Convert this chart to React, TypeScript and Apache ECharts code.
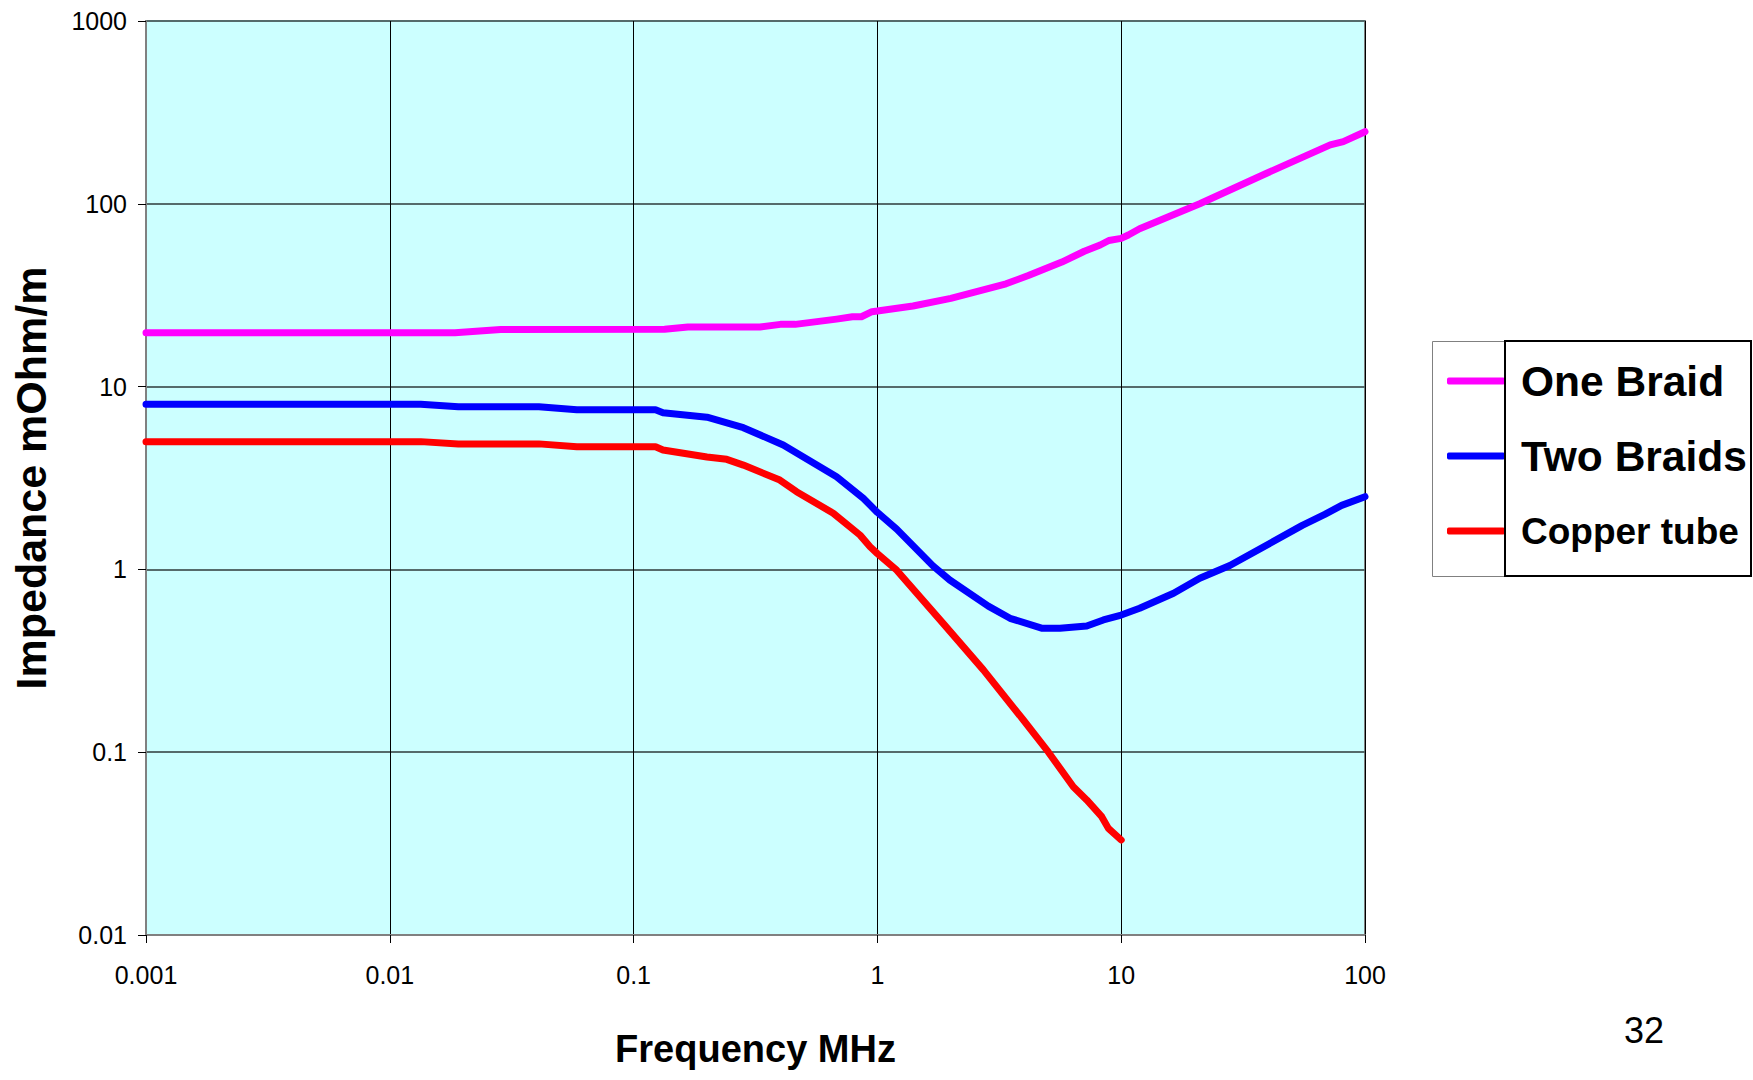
import React, { useEffect, useRef } from "react";
import * as echarts from "echarts";

// Frequency (MHz) and impedance (mOhm/m)
const oneBraidFreq = [0.001, 0.0185, 0.0285, 0.134, 0.167, 0.33, 0.4, 0.46, 0.68, 0.79, 0.86, 0.95, 1.0, 1.4, 2.0, 3.37, 4.16, 5.71, 7.06, 8.2, 8.9, 10, 10.7, 11.9, 21, 39.5, 72, 81.5, 100];
const oneBraidZ = [19.7, 19.7, 20.5, 20.6, 21.2, 21.2, 21.9, 21.9, 23.4, 24.1, 24.1, 25.7, 25.9, 27.6, 30.4, 36.5, 40.5, 48, 55, 59.5, 63, 64.7, 67.5, 73, 100, 147, 210, 219, 248];

const twoBraidsFreq = [0.001, 0.0134, 0.0191, 0.0409, 0.0585, 0.123, 0.132, 0.2, 0.282, 0.411, 0.68, 0.875, 1.0, 1.2, 1.69, 1.98, 2.85, 3.5, 4.75, 5.61, 7.22, 8.45, 10, 11.9, 16.4, 21, 27.9, 55.3, 68.4, 80.2, 100];
const twoBraidsZ = [8.0, 8.0, 7.76, 7.76, 7.48, 7.48, 7.2, 6.8, 5.96, 4.79, 3.21, 2.45, 2.05, 1.66, 1.045, 0.875, 0.63, 0.54, 0.476, 0.476, 0.49, 0.529, 0.563, 0.613, 0.74, 0.894, 1.05, 1.74, 2.0, 2.24, 2.5];

const copperFreq = [0.001, 0.0134, 0.0191, 0.0409, 0.0585, 0.123, 0.132, 0.2, 0.241, 0.282, 0.398, 0.466, 0.659, 0.849, 0.933, 1.0, 1.2, 1.86, 2.72, 3.97, 5.03, 6.36, 7.22, 8.32, 8.86, 10];
const copperZ = [5.0, 5.0, 4.86, 4.86, 4.69, 4.69, 4.5, 4.12, 4.0, 3.72, 3.08, 2.66, 2.03, 1.54, 1.33, 1.22, 0.99, 0.507, 0.282, 0.15, 0.1, 0.0647, 0.0548, 0.0444, 0.0383, 0.0331];

const seriesNames = ["One Braid", "Two Braids", "Copper tube"];
const seriesColors = ["#FF00FF", "#0000FF", "#FF0000"];

const zip = (xs: number[], ys: number[]) => xs.map((x, i) => [x, ys[i]]);

const fmt = (v: number) => String(Number(Number(v).toPrecision(6)));

export default function App() {
  const ref = useRef<HTMLDivElement>(null);

  useEffect(() => {
    if (!ref.current) return;
    const chart = echarts.init(ref.current, undefined, { renderer: "svg" });
    const font = "Liberation Sans";
    const datasets = [
      zip(oneBraidFreq, oneBraidZ),
      zip(twoBraidsFreq, twoBraidsZ),
      zip(copperFreq, copperZ),
    ];
    chart.setOption({
      animation: false,
      backgroundColor: "#FFFFFF",
      textStyle: { fontFamily: font },
      grid: {
        left: 146,
        top: 21,
        width: 1219,
        height: 914,
        show: true,
        backgroundColor: "#CCFFFF",
        borderColor: "#808080",
        borderWidth: 2,
      },
      xAxis: {
        type: "log",
        logBase: 10,
        min: 0.001,
        max: 100,
        axisLine: { show: true, onZero: false, lineStyle: { color: "#808080", width: 2 } },
        axisTick: { show: true, length: 8, lineStyle: { color: "#000", width: 1 } },
        minorTick: { show: false },
        axisLabel: { formatter: fmt, fontSize: 25, color: "#000", margin: 27, fontFamily: font },
        splitLine: { show: true, lineStyle: { color: "#000", width: 1 } },
        name: "Frequency MHz",
        nameLocation: "middle",
        nameGap: 95,
        nameTextStyle: { fontSize: 38, fontWeight: "bold", color: "#000", fontFamily: font },
      },
      yAxis: {
        type: "log",
        logBase: 10,
        min: 0.01,
        max: 1000,
        axisLine: { show: true, onZero: false, lineStyle: { color: "#808080", width: 2 } },
        axisTick: { show: true, length: 8, lineStyle: { color: "#000", width: 1 } },
        minorTick: { show: false },
        axisLabel: { formatter: fmt, fontSize: 25, color: "#000", margin: 19, fontFamily: font },
        splitLine: { show: true, lineStyle: { color: "#556b6b", width: 2 } },
        name: "Impedance mOhm/m",
        nameLocation: "middle",
        nameRotate: 90,
        nameGap: 94,
        nameTextStyle: { fontSize: 43, fontWeight: "bold", color: "#000", fontFamily: font },
      },
      legend: {
        orient: "vertical",
        left: 1447,
        top: 358,
        padding: 0,
        itemGap: 29,
        itemWidth: 58,
        itemHeight: 7,
        icon: "roundRect",
        selectedMode: false,
        textStyle: { fontWeight: "bold", color: "#000", lineHeight: 46, padding: [0, 0, 0, 11], fontFamily: font },
        data: [
          { name: seriesNames[0], textStyle: { fontSize: 42.5 } },
          { name: seriesNames[1], textStyle: { fontSize: 42.5 } },
          { name: seriesNames[2], textStyle: { fontSize: 37 } },
        ],
      },
      graphic: [
        {
          type: "rect",
          shape: { x: 1432.5, y: 341.5, width: 319, height: 235 },
          style: { fill: "none", stroke: "#808080", lineWidth: 1 },
          z: 1,
        },
        {
          type: "rect",
          shape: { x: 1505, y: 341, width: 246, height: 235 },
          style: { fill: "none", stroke: "#000000", lineWidth: 2 },
          z: 10,
        },
        {
          type: "text",
          x: 1644,
          y: 1030,
          style: { text: "32", fontSize: 36, fontFamily: font, fill: "#000", textAlign: "center", textVerticalAlign: "middle" },
        },
      ],
      series: datasets.map((d, i) => ({
        name: seriesNames[i],
        type: "line",
        data: d,
        symbol: "none",
        smooth: false,
        color: seriesColors[i],
        lineStyle: { color: seriesColors[i], width: 7, join: "round", cap: "round" },
        emphasis: { disabled: true },
      })),
    });
    return () => chart.dispose();
  }, []);

  return (
    <div
      ref={ref}
      style={{ position: "fixed", left: 0, top: 0, width: 1753, height: 1080, background: "#fff" }}
    />
  );
}
